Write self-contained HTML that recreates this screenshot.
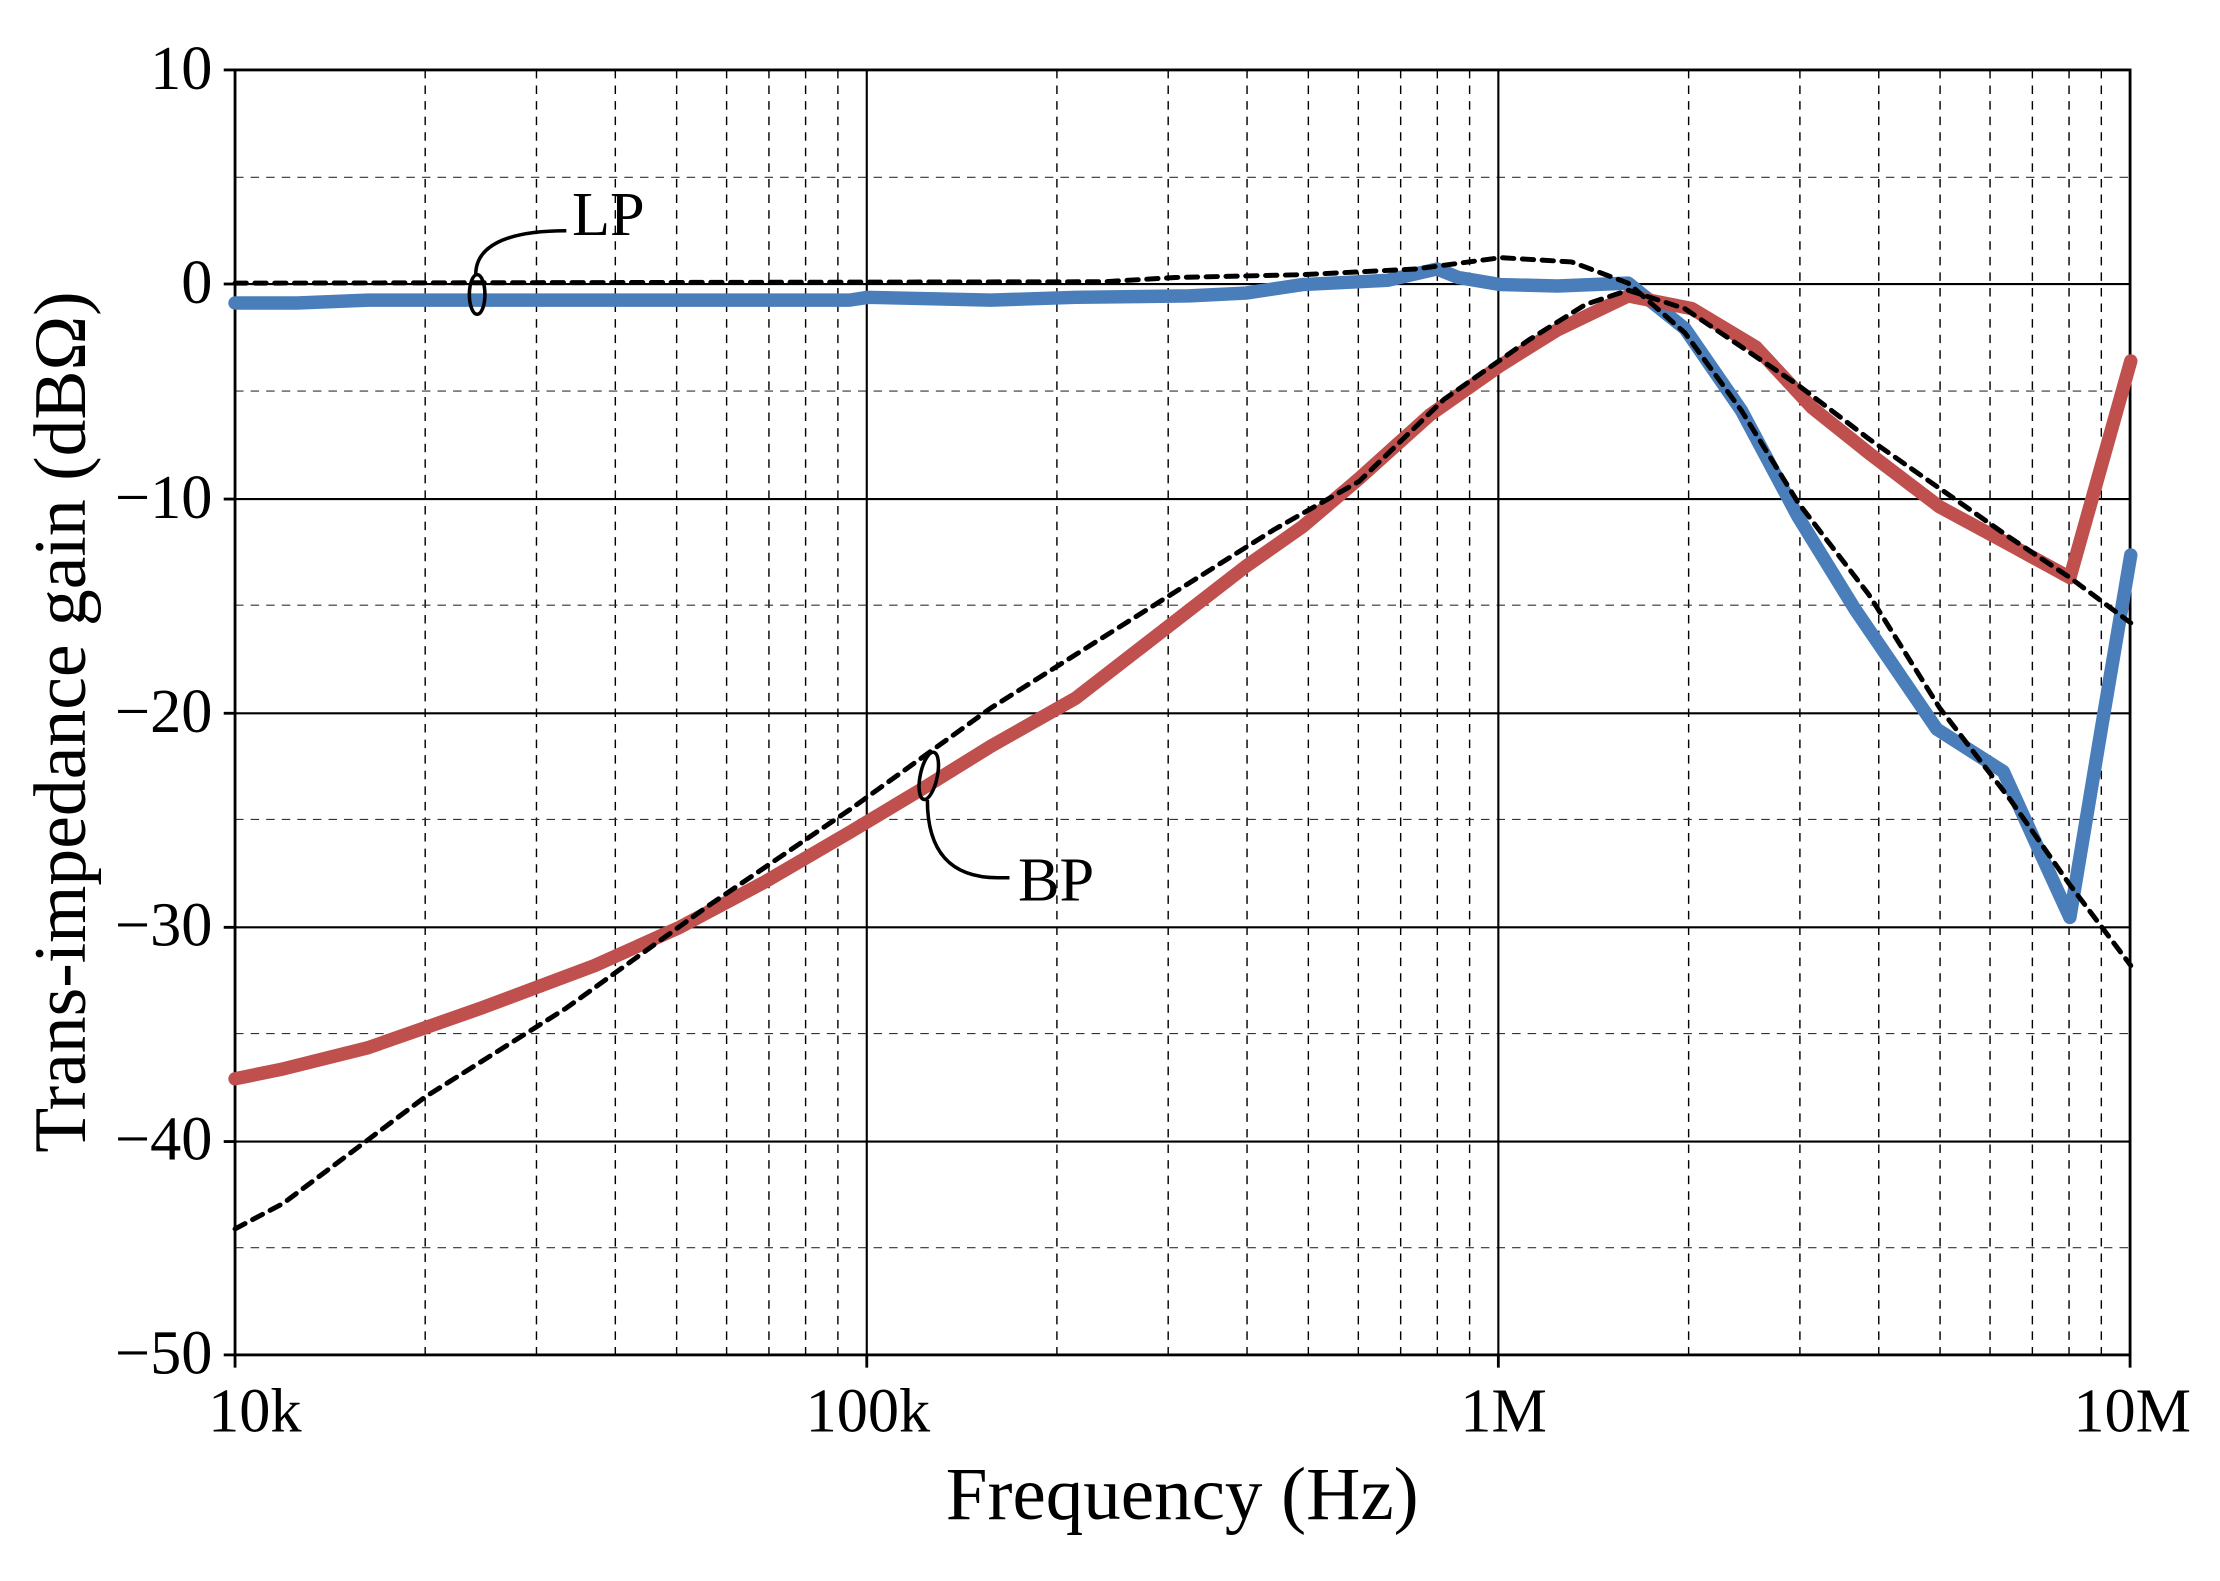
<!DOCTYPE html>
<html><head><meta charset="utf-8"><style>html,body{margin:0;padding:0;background:#fff}svg{display:block}</style></head>
<body>
<svg xmlns="http://www.w3.org/2000/svg" width="2220" height="1581" viewBox="0 0 1568 1116.7">
<rect width="1568" height="1116.7" fill="#fff"/>
<g id="grid" stroke="#000" fill="none">
<g stroke-width="1" stroke-dasharray="6,5">
<line x1="300.3" y1="49.4" x2="300.3" y2="957"/><line x1="378.9" y1="49.4" x2="378.9" y2="957"/><line x1="434.6" y1="49.4" x2="434.6" y2="957"/><line x1="477.9" y1="49.4" x2="477.9" y2="957"/><line x1="513.2" y1="49.4" x2="513.2" y2="957"/><line x1="543.1" y1="49.4" x2="543.1" y2="957"/><line x1="569" y1="49.4" x2="569" y2="957"/><line x1="591.8" y1="49.4" x2="591.8" y2="957"/>
<line x1="746.5" y1="49.4" x2="746.5" y2="957"/><line x1="825.1" y1="49.4" x2="825.1" y2="957"/><line x1="880.8" y1="49.4" x2="880.8" y2="957"/><line x1="924.1" y1="49.4" x2="924.1" y2="957"/><line x1="959.4" y1="49.4" x2="959.4" y2="957"/><line x1="989.3" y1="49.4" x2="989.3" y2="957"/><line x1="1015.2" y1="49.4" x2="1015.2" y2="957"/><line x1="1038" y1="49.4" x2="1038" y2="957"/>
<line x1="1192.7" y1="49.4" x2="1192.7" y2="957"/><line x1="1271.3" y1="49.4" x2="1271.3" y2="957"/><line x1="1327" y1="49.4" x2="1327" y2="957"/><line x1="1370.3" y1="49.4" x2="1370.3" y2="957"/><line x1="1405.6" y1="49.4" x2="1405.6" y2="957"/><line x1="1435.5" y1="49.4" x2="1435.5" y2="957"/><line x1="1461.4" y1="49.4" x2="1461.4" y2="957"/><line x1="1484.2" y1="49.4" x2="1484.2" y2="957"/>
</g>
<g stroke-width="0.8" stroke-dasharray="6,5" stroke="#333">
<line x1="166" y1="125.2" x2="1504.5" y2="125.2"/><line x1="166" y1="276.2" x2="1504.5" y2="276.2"/><line x1="166" y1="427.5" x2="1504.5" y2="427.5"/><line x1="166" y1="578.8" x2="1504.5" y2="578.8"/><line x1="166" y1="730" x2="1504.5" y2="730"/><line x1="166" y1="881.3" x2="1504.5" y2="881.3"/>
</g>
<g stroke-width="1.5">
<line x1="612.2" y1="49.4" x2="612.2" y2="957"/><line x1="1058.3" y1="49.4" x2="1058.3" y2="957"/>
<line x1="166" y1="200.6" x2="1504.5" y2="200.6"/><line x1="166" y1="352.5" x2="1504.5" y2="352.5"/><line x1="166" y1="503.8" x2="1504.5" y2="503.8"/><line x1="166" y1="655" x2="1504.5" y2="655"/><line x1="166" y1="806.3" x2="1504.5" y2="806.3"/>
</g>
<rect x="166" y="49.4" width="1338.5" height="907.6" stroke-width="2"/>
<g stroke-width="2">
<line x1="158" y1="49.4" x2="166" y2="49.4"/><line x1="158" y1="200.6" x2="166" y2="200.6"/><line x1="158" y1="352.5" x2="166" y2="352.5"/><line x1="158" y1="503.8" x2="166" y2="503.8"/><line x1="158" y1="655" x2="166" y2="655"/><line x1="158" y1="806.3" x2="166" y2="806.3"/><line x1="158" y1="957" x2="166" y2="957"/>
<line x1="166" y1="957" x2="166" y2="966"/><line x1="612.2" y1="957" x2="612.2" y2="966"/><line x1="1058.3" y1="957" x2="1058.3" y2="966"/><line x1="1504.5" y1="957" x2="1504.5" y2="966"/>
</g>
</g>
<g fill="none" stroke-linejoin="round" stroke-linecap="round">
<polyline stroke="#4a7ebb" stroke-width="9.5" points="166,214 210,214 260,212 600,212 613,210 700,212 760,210 840,209 880,207 920,201 980,198 1015,190 1030,196 1060,201 1100,202 1150,200 1190,232 1230,290 1270,365 1310,430 1368,515 1415,545 1440,600 1462,648 1485,510 1505,392"/>
<polyline stroke="#c0504d" stroke-width="9.5" points="166,762 200,755 260,740 300,726 340,712 420,682 480,655 540,623 600,588 650,558 700,527 760,493 840,431 880,400 920,372 960,338 1010,293 1060,258 1100,233 1150,209 1195,218 1240,245 1280,288 1320,320 1370,358 1420,385 1462,408 1505,255"/>
<polyline stroke="#000" stroke-width="3.5" stroke-dasharray="8,6" points="166,200 780,199 830,196 920,194 1000,190 1060,182 1110,185 1150,200 1190,235 1230,290 1270,355 1320,420 1370,500 1420,565 1462,625 1505,682"/>
<polyline stroke="#000" stroke-width="3.5" stroke-dasharray="8,6" points="166,868 200,850 260,805 300,775 400,712 500,640 600,572 700,500 800,437 900,374 960,340 1020,282 1080,240 1120,215 1150,205 1190,218 1230,245 1270,272 1320,310 1370,345 1420,380 1462,408 1505,440"/>
</g>
<g fill="none" stroke="#000" stroke-width="2.5">
<ellipse cx="337" cy="208" rx="5.5" ry="14"/>
<path d="M336,194 C336,175 355,163 400,163"/>
<ellipse cx="656" cy="548" rx="6" ry="17" transform="rotate(12 656 548)"/>
<path d="M655,565 C655,600 670,620 705,620 L713,620"/>
</g>
<g font-family="Liberation Serif, serif" fill="#000">
<text x="404" y="166" font-size="44">LP</text>
<text x="719" y="636" font-size="44">BP</text>
<g font-size="44" text-anchor="end">
<text x="150" y="63">10</text><text x="150" y="214">0</text><text x="150" y="366">−10</text><text x="150" y="517">−20</text><text x="150" y="668">−30</text><text x="150" y="819">−40</text><text x="150" y="970">−50</text>
</g>
<g font-size="44" text-anchor="middle">
<text x="180" y="1011">10k</text><text x="613" y="1011">100k</text><text x="1062" y="1011">1M</text><text x="1506" y="1011">10M</text>
</g>
<text x="835" y="1073" font-size="53" text-anchor="middle">Frequency (Hz)</text>
<text transform="translate(60 510) rotate(-90)" font-size="52" text-anchor="middle">Trans-impedance gain (dBΩ)</text>
</g>
</svg>
</body></html>
